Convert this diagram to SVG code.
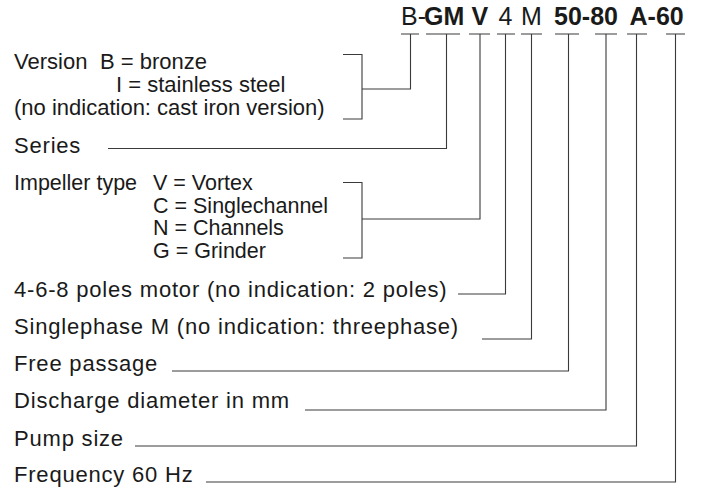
<svg xmlns="http://www.w3.org/2000/svg" width="703" height="490" viewBox="0 0 703 490">
<style>
text{font-family:"Liberation Sans",Arial,sans-serif;fill:#1a1a1a;font-size:22px}
.w{letter-spacing:0.8px}
.i{font-size:21.5px}
.t{font-size:25px}
.b{font-weight:bold}
.c{fill:none;stroke:#3a3a3a;stroke-width:1.1}
</style>
<rect width="703" height="490" fill="#fff"/>
<g id="code">
<text class="t" y="25"><tspan x="401">B-</tspan><tspan class="b" x="424">GM</tspan><tspan class="b" x="471.5">V</tspan><tspan x="498.5">4</tspan><tspan x="521">M</tspan><tspan class="b" x="554">50-80</tspan><tspan class="b" x="629.5">A-60</tspan></text>
</g>
<g id="version">
<text x="14" y="69">Version<tspan x="100">B = bronze</tspan></text>
<text x="116" y="92">I = stainless steel</text>
<text x="14" y="115">(no indication: cast iron version)</text>
</g>
<g id="series"><text class="w" x="14" y="153">Series</text></g>
<g id="impeller">
<text class="i" x="14" y="190">Impeller type<tspan x="153">V = Vortex</tspan></text>
<text class="i" x="153" y="212.7">C = Singlechannel</text>
<text class="i" x="153" y="235.3">N = Channels</text>
<text class="i" x="153" y="258">G = Grinder</text>
</g>
<g id="poles"><text class="w" x="14" y="297">4-6-8 poles motor (no indication: 2 poles)</text></g>
<g id="phase"><text class="w" x="14" y="334">Singlephase M (no indication: threephase)</text></g>
<g id="passage"><text class="w" x="14" y="371">Free passage</text></g>
<g id="discharge"><text class="w" x="14" y="408">Discharge diameter in mm</text></g>
<g id="size"><text class="w" x="14" y="445.5">Pump size</text></g>
<g id="frequency"><text class="w" x="14" y="482">Frequency 60 Hz</text></g>
<g id="connectors" class="c">
<path d="M401 34H419M426 34H460M469 34H490M497 34H515M521 34H542M555 34H579M595 34H617M627 34H647M666 34H685"/>
<path d="M343 54.5H362V119H343M362 89H410.5V34"/>
<path d="M108 148.5H446.5V34"/>
<path d="M343 182.5H362V258H343M362 219H480V34"/>
<path d="M458 294H505.5V34"/>
<path d="M482 339H531.5V34"/>
<path d="M172 371H568.5V34"/>
<path d="M305 410H606V34"/>
<path d="M135 446H636.5V34"/>
<path d="M206 482H675.5V34"/>
</g>
</svg>
